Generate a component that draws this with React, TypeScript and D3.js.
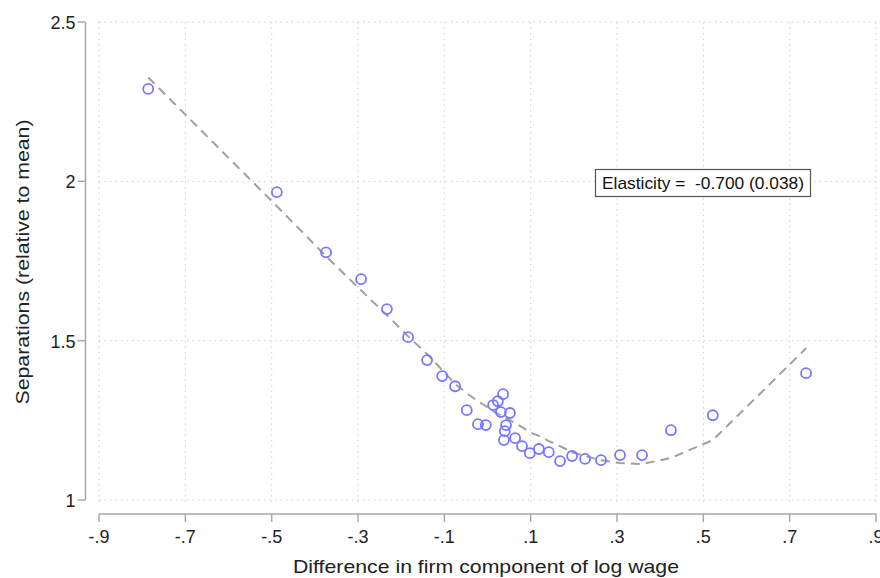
import React from "react";
import * as d3 from "d3";

// Binned scatter: firm wage-component difference vs. relative separations
const binX = [
  -0.786, -0.488, -0.374, -0.293, -0.233, -0.184, -0.14, -0.105, -0.075, -0.048,
  -0.022, -0.004, 0.013, 0.024, 0.031, 0.036, 0.038, 0.04, 0.043, 0.052,
  0.064, 0.08, 0.098, 0.119, 0.142, 0.168, 0.196, 0.226, 0.263, 0.307,
  0.358, 0.425, 0.522, 0.738,
];
const binY = [
  2.29, 1.966, 1.777, 1.693, 1.599, 1.511, 1.439, 1.389, 1.357, 1.282,
  1.238, 1.235, 1.298, 1.31, 1.276, 1.332, 1.188, 1.216, 1.235, 1.273,
  1.194, 1.169, 1.147, 1.16, 1.15, 1.122, 1.138, 1.129, 1.125, 1.141,
  1.141, 1.219, 1.266, 1.398,
];
// Fitted values evaluated at each bin
const fitY = [
  2.326, 1.922, 1.765, 1.658, 1.58, 1.514, 1.458, 1.408, 1.364, 1.335,
  1.31, 1.295, 1.279, 1.27, 1.266, 1.263, 1.26, 1.257, 1.257, 1.251,
  1.241, 1.229, 1.213, 1.201, 1.185, 1.169, 1.15, 1.138, 1.125, 1.116,
  1.113, 1.132, 1.188, 1.476,
];

const xTicks = [-0.9, -0.7, -0.5, -0.3, -0.1, 0.1, 0.3, 0.5, 0.7, 0.9];
const xTickLabels = ["-.9", "-.7", "-.5", "-.3", "-.1", ".1", ".3", ".5", ".7", ".9"];
const yTicks = [1, 1.5, 2, 2.5];
const yTickLabels = ["1", "1.5", "2", "2.5"];

const xTitle = "Difference in firm component of log wage";
const yTitle = "Separations (relative to mean)";
const note = "Elasticity =  -0.700 (0.038)";

const W = 880;
const H = 578;
const FONT = "Arial, 'Liberation Sans', sans-serif";

export default function App() {
  const x = d3.scaleLinear().domain([-0.9, 0.9]).range([99, 876]);
  const y = d3.scaleLinear().domain([1, 2.5]).range([500, 22]);

  const fitLine = d3
    .line<number>()
    .x((_, i) => x(binX[i]))
    .y((d) => y(d));

  const axisYx = 85.5;
  const axisXy = 514;
  const gridColor = "#cfcfcf";
  const axisColor = "#a8a8a8";

  return (
    <svg
      width={W}
      height={H}
      style={{ position: "absolute", left: 0, top: 0, background: "#fff" }}
      fontFamily={FONT}
    >
      <rect width={W} height={H} fill="#fff" />

      {/* grid */}
      {yTicks.map((t) => (
        <line
          key={"gy" + t}
          x1={x(-0.9)}
          x2={x(0.9)}
          y1={y(t)}
          y2={y(t)}
          stroke={gridColor}
          strokeWidth={1}
          strokeDasharray="1.5,4"
        />
      ))}
      {xTicks.map((t) => (
        <line
          key={"gx" + t}
          x1={x(t)}
          x2={x(t)}
          y1={y(2.5)}
          y2={505}
          stroke={gridColor}
          strokeWidth={1}
          strokeDasharray="1.5,4"
        />
      ))}

      {/* y axis */}
      <line x1={axisYx} x2={axisYx} y1={y(2.5)} y2={y(1)} stroke={axisColor} strokeWidth={1.5} />
      {yTicks.map((t, i) => (
        <g key={"yt" + t}>
          <line x1={axisYx - 8} x2={axisYx} y1={y(t)} y2={y(t)} stroke={axisColor} strokeWidth={1.5} />
          <text
            x={axisYx - 10}
            y={y(t) + 1}
            textAnchor="end"
            dominantBaseline="central"
            fontSize={18}
            fill="#222"
          >
            {yTickLabels[i]}
          </text>
        </g>
      ))}
      <text
        transform={`translate(22,${(y(2.5) + y(1)) / 2 + 1}) rotate(-90)`}
        textAnchor="middle"
        dominantBaseline="central"
        fontSize={19}
        fill="#222"
        textLength={285}
        lengthAdjust="spacingAndGlyphs"
      >
        {yTitle}
      </text>

      {/* x axis */}
      <line x1={x(-0.9)} x2={x(0.9)} y1={axisXy} y2={axisXy} stroke={axisColor} strokeWidth={1.5} />
      {xTicks.map((t, i) => (
        <g key={"xt" + t}>
          <line x1={x(t)} x2={x(t)} y1={axisXy} y2={axisXy + 8} stroke={axisColor} strokeWidth={1.5} />
          <text x={x(t)} y={537} textAnchor="middle" dominantBaseline="central" fontSize={18} fill="#222">
            {xTickLabels[i]}
          </text>
        </g>
      ))}
      <text
        x={486}
        y={566}
        textAnchor="middle"
        dominantBaseline="central"
        fontSize={19}
        fill="#222"
        textLength={386}
        lengthAdjust="spacingAndGlyphs"
      >
        {xTitle}
      </text>

      {/* fitted line */}
      <path
        d={fitLine(fitY) || ""}
        fill="none"
        stroke="#a0a0a0"
        strokeWidth={2}
        strokeDasharray="9,6"
      />

      {/* bins */}
      {binX.map((bx, i) => (
        <circle
          key={"p" + i}
          cx={x(bx)}
          cy={y(binY[i])}
          r={5}
          fill="none"
          stroke="#7878ff"
          strokeWidth={1.8}
        />
      ))}

      {/* annotation */}
      <rect x={595.5} y={169.5} width={215} height={27} fill="#fff" stroke="#555" strokeWidth={1.2} />
      <text
        x={602}
        y={183.5}
        dominantBaseline="central"
        fontSize={17}
        fill="#111"
        style={{ whiteSpace: "pre" }}
        textLength={202}
        lengthAdjust="spacingAndGlyphs"
      >
        {note}
      </text>
    </svg>
  );
}
